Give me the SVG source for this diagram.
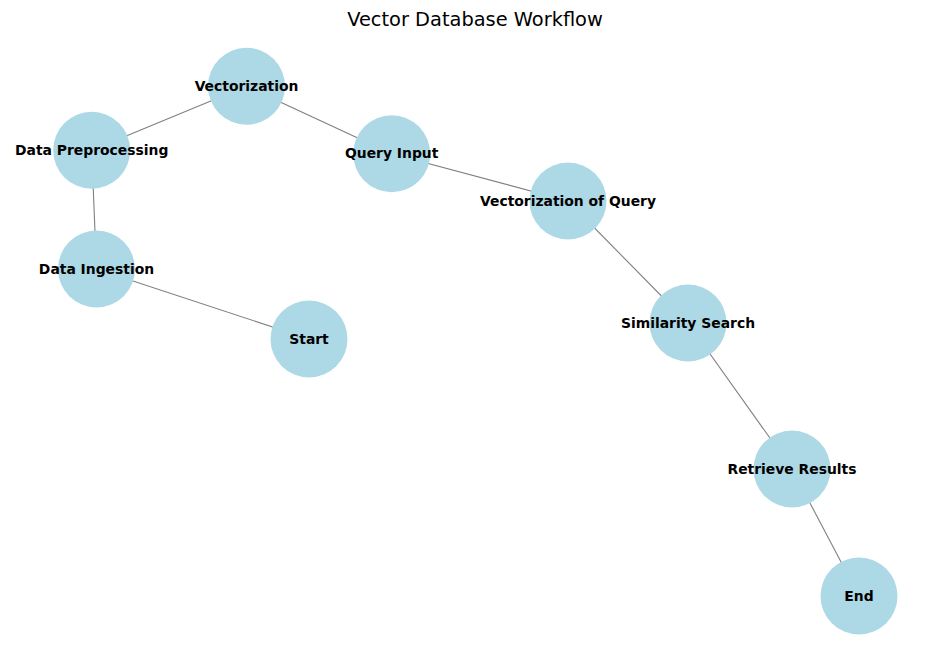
<svg xmlns="http://www.w3.org/2000/svg" width="950" height="659" viewBox="0 0 950 659">
<style>
.n{fill:#ADD8E6}
.l{font-family:"DejaVu Sans",sans-serif;font-size:13.9px;font-weight:bold;fill:#000;text-anchor:middle;dominant-baseline:central}
.e line{stroke:#808080;stroke-width:1.1}
</style>
<rect width="950" height="659" fill="#fff"/>
<text x="475" y="19" font-family="DejaVu Sans,sans-serif" font-size="19.4px" text-anchor="middle" dominant-baseline="central">Vector Database Workflow</text>
<g id="connectors" class="e">
<line x1="309" y1="339" x2="96.5" y2="269"/>
<line x1="96.5" y1="269" x2="91.7" y2="150.3"/>
<line x1="91.7" y1="150.3" x2="246.5" y2="86.3"/>
<line x1="246.5" y1="86.3" x2="391.7" y2="153.7"/>
<line x1="391.7" y1="153.7" x2="568" y2="201"/>
<line x1="568" y1="201" x2="688" y2="323"/>
<line x1="688" y1="323" x2="792" y2="469"/>
<line x1="792" y1="469" x2="859" y2="596"/>
</g>
<g id="vectorization"><circle class="n" cx="246.5" cy="86.3" r="38.5"/><text class="l" x="246.5" y="85.8">Vectorization</text></g>
<g id="data-preprocessing"><circle class="n" cx="91.7" cy="150.3" r="38.5"/><text class="l" x="91.7" y="149.8">Data Preprocessing</text></g>
<g id="query-input"><circle class="n" cx="391.7" cy="153.7" r="38.5"/><text class="l" x="391.7" y="153.2">Query Input</text></g>
<g id="vectorization-of-query"><circle class="n" cx="568" cy="201" r="38.5"/><text class="l" x="568" y="200.5">Vectorization of Query</text></g>
<g id="data-ingestion"><circle class="n" cx="96.5" cy="269" r="38.5"/><text class="l" x="96.5" y="268.5">Data Ingestion</text></g>
<g id="start"><circle class="n" cx="309" cy="339" r="38.5"/><text class="l" x="309" y="338.5">Start</text></g>
<g id="similarity-search"><circle class="n" cx="688" cy="323" r="38.5"/><text class="l" x="688" y="322.5">Similarity Search</text></g>
<g id="retrieve-results"><circle class="n" cx="792" cy="469" r="38.5"/><text class="l" x="792" y="468.5">Retrieve Results</text></g>
<g id="end"><circle class="n" cx="859" cy="596" r="38.5"/><text class="l" x="859" y="595.5">End</text></g>
</svg>
